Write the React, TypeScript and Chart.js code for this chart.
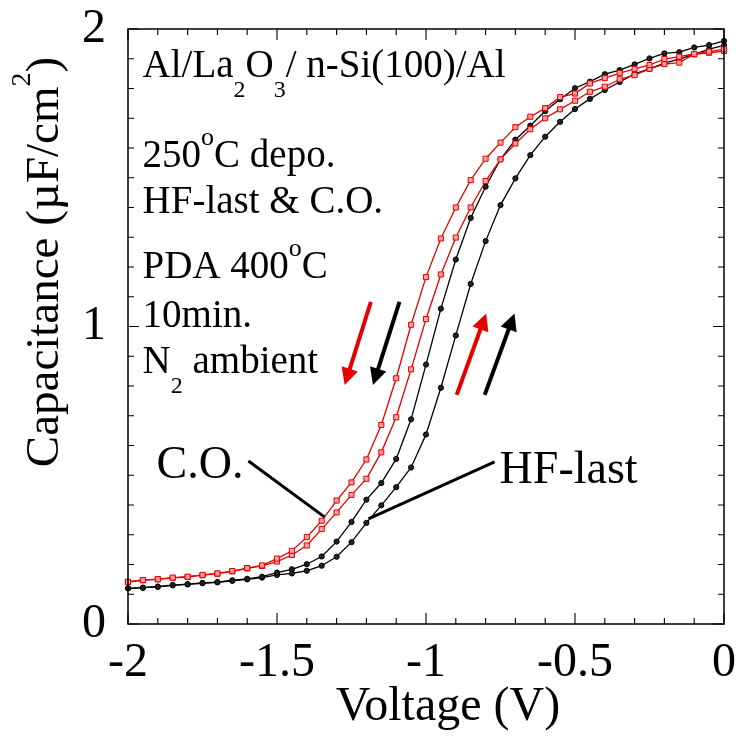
import React, { useEffect, useRef } from 'react';
import { Chart, registerables } from 'chart.js';

Chart.register(...registerables);

// ---- data ----
const voltage = [
  -2, -1.95, -1.9, -1.85, -1.8, -1.75, -1.7, -1.65, -1.6, -1.55,
  -1.5, -1.45, -1.4, -1.35, -1.3, -1.25, -1.2, -1.15, -1.1, -1.05,
  -1, -0.95, -0.9, -0.85, -0.8, -0.75, -0.7, -0.65, -0.6, -0.55,
  -0.5, -0.45, -0.4, -0.35, -0.3, -0.25, -0.2, -0.15, -0.1, -0.05, 0,
];

// C.O. (red) – left branch (sweep toward negative bias)
const coReverse = [
  0.142, 0.148, 0.151, 0.156, 0.159, 0.165, 0.170, 0.178, 0.188, 0.197,
  0.220, 0.246, 0.292, 0.347, 0.415, 0.476, 0.553, 0.669, 0.826, 1.006,
  1.166, 1.296, 1.400, 1.492, 1.564, 1.618, 1.670, 1.705, 1.734, 1.771,
  1.783, 1.817, 1.835, 1.852, 1.866, 1.879, 1.899, 1.907, 1.916, 1.924, 1.932,
];

// C.O. (red) – right branch
const coForward = [
  0.141, 0.147, 0.150, 0.155, 0.158, 0.164, 0.169, 0.177, 0.187, 0.195,
  0.210, 0.232, 0.264, 0.319, 0.375, 0.434, 0.488, 0.577, 0.695, 0.856,
  1.025, 1.175, 1.299, 1.400, 1.489, 1.562, 1.615, 1.663, 1.700, 1.730,
  1.759, 1.789, 1.806, 1.831, 1.845, 1.866, 1.882, 1.887, 1.915, 1.920, 1.926,
];

// HF-last (black) – left branch
const hfReverse = [
  0.120, 0.122, 0.126, 0.131, 0.134, 0.138, 0.141, 0.147, 0.152, 0.159,
  0.173, 0.184, 0.201, 0.227, 0.277, 0.343, 0.418, 0.474, 0.555, 0.688,
  0.872, 1.060, 1.225, 1.365, 1.470, 1.562, 1.628, 1.675, 1.724, 1.764,
  1.801, 1.823, 1.848, 1.862, 1.881, 1.901, 1.918, 1.922, 1.938, 1.946, 1.960,
];

// HF-last (black) – right branch
const hfForward = [
  0.120, 0.122, 0.125, 0.130, 0.133, 0.137, 0.140, 0.145, 0.150, 0.156,
  0.165, 0.170, 0.179, 0.196, 0.226, 0.275, 0.340, 0.399, 0.460, 0.526,
  0.637, 0.794, 0.970, 1.143, 1.287, 1.408, 1.498, 1.576, 1.638, 1.688,
  1.731, 1.765, 1.795, 1.822, 1.849, 1.866, 1.885, 1.899, 1.915, 1.932, 1.945,
];

const xMin = -2;
const xMax = 0;
const yMin = 0;
const yMax = 2;
const xMajorStep = 0.5;
const yMajorStep = 1;
const minorStep = 0.1;

const xTitle = 'Voltage (V)';
const yTitleMain = 'Capacitance (µF/cm';
const yTitleSup = '2';
const yTitleEnd = ')';

const RED = '#e60000';
const FONT = "'Liberation Serif', 'Times New Roman', serif";

type Part = { t: string; size: number; dy?: number };

function richWidth(ctx: CanvasRenderingContext2D, parts: Part[]) {
  let w = 0;
  for (const p of parts) {
    ctx.font = `${p.size}px ${FONT}`;
    w += ctx.measureText(p.t).width;
  }
  return w;
}

function drawRich(ctx: CanvasRenderingContext2D, x: number, y: number, parts: Part[]) {
  let cx = x;
  for (const p of parts) {
    ctx.font = `${p.size}px ${FONT}`;
    ctx.fillText(p.t, cx, y + (p.dy || 0));
    cx += ctx.measureText(p.t).width;
  }
}

function arrow(ctx: CanvasRenderingContext2D, x1: number, y1: number, x2: number, y2: number, color: string) {
  const ang = Math.atan2(y2 - y1, x2 - x1);
  const hl = 17;
  const hw = 8.5;
  const c = Math.cos(ang);
  const s = Math.sin(ang);
  const bx = x2 - hl * c;
  const by = y2 - hl * s;
  ctx.save();
  ctx.strokeStyle = color;
  ctx.fillStyle = color;
  ctx.lineWidth = 4;
  ctx.lineCap = 'butt';
  ctx.beginPath();
  ctx.moveTo(x1, y1);
  ctx.lineTo(bx + 2 * c, by + 2 * s);
  ctx.stroke();
  ctx.beginPath();
  ctx.moveTo(x2, y2);
  ctx.lineTo(bx + hw * s, by - hw * c);
  ctx.lineTo(bx - hw * s, by + hw * c);
  ctx.closePath();
  ctx.fill();
  ctx.restore();
}

const decorPlugin = {
  id: 'decor',
  afterDatasetsDraw(chart: any) {
    const ctx: CanvasRenderingContext2D = chart.ctx;
    const xs = chart.scales.x;
    const ys = chart.scales.y;
    const { left, right, top, bottom } = chart.chartArea;
    const px = (v: number) => xs.getPixelForValue(v);
    const py = (v: number) => ys.getPixelForValue(v);

    ctx.save();
    // frame
    ctx.strokeStyle = '#000';
    ctx.lineWidth = 1.5;
    ctx.strokeRect(left, top, right - left, bottom - top);

    // inward ticks on all four sides
    ctx.lineWidth = 1.1;
    const major = 11;
    const minor = 6;
    const nx = Math.round((xMax - xMin) / minorStep);
    for (let i = 0; i <= nx; i++) {
      const v = xMin + i * minorStep;
      const isMajor = Math.abs(v / xMajorStep - Math.round(v / xMajorStep)) < 1e-6;
      const len = isMajor ? major : minor;
      const x = px(v);
      ctx.beginPath();
      ctx.moveTo(x, bottom);
      ctx.lineTo(x, bottom - len);
      ctx.moveTo(x, top);
      ctx.lineTo(x, top + len);
      ctx.stroke();
    }
    const ny = Math.round((yMax - yMin) / minorStep);
    for (let i = 0; i <= ny; i++) {
      const v = yMin + i * minorStep;
      const isMajor = Math.abs(v / yMajorStep - Math.round(v / yMajorStep)) < 1e-6;
      const len = isMajor ? major : minor;
      const y = py(v);
      ctx.beginPath();
      ctx.moveTo(left, y);
      ctx.lineTo(left + len, y);
      ctx.moveTo(right, y);
      ctx.lineTo(right - len, y);
      ctx.stroke();
    }

    ctx.fillStyle = '#000';
    ctx.textBaseline = 'alphabetic';
    ctx.textAlign = 'left';

    // axis titles
    ctx.font = `48px ${FONT}`;
    ctx.textAlign = 'center';
    ctx.fillText(xTitle, left + 320, 720);
    ctx.textAlign = 'left';

    const yParts: Part[] = [
      { t: yTitleMain, size: 47 },
      { t: yTitleSup, size: 28, dy: -28 },
      { t: yTitleEnd, size: 47 },
    ];
    const yw = richWidth(ctx, yParts);
    ctx.save();
    ctx.translate(58, 262);
    ctx.rotate(-Math.PI / 2);
    drawRich(ctx, -yw / 2, 0, yParts);
    ctx.restore();

    // annotation block
    const tx = px(-1.951);
    const f = 39;
    drawRich(ctx, tx, py(1.839), [
      { t: 'Al/La', size: f },
      { t: '2', size: 24, dy: 20 },
      { t: 'O', size: f },
      { t: '3', size: 24, dy: 20 },
      { t: '/ n-Si(100)/Al', size: f },
    ]);
    drawRich(ctx, tx, py(1.536), [
      { t: '250', size: f },
      { t: 'o', size: 26, dy: -22 },
      { t: 'C depo.', size: f },
    ]);
    drawRich(ctx, tx, py(1.382), [{ t: 'HF-last & C.O.', size: f }]);
    drawRich(ctx, tx, py(1.163), [
      { t: 'PDA 400', size: f },
      { t: 'o', size: 26, dy: -22 },
      { t: 'C', size: f },
    ]);
    drawRich(ctx, tx, py(0.998), [{ t: '10min.', size: f }]);
    drawRich(ctx, tx, py(0.844), [
      { t: 'N', size: f },
      { t: '2', size: 24, dy: 20 },
      { t: ' ambient', size: f },
    ]);

    // curve labels with leader lines
    drawRich(ctx, px(-1.904), py(0.491), [{ t: 'C.O.', size: 46 }]);
    drawRich(ctx, px(-0.753), py(0.474), [{ t: 'HF-last', size: 46 }]);
    ctx.strokeStyle = '#000';
    ctx.lineWidth = 3;
    ctx.beginPath();
    ctx.moveTo(px(-1.596), py(0.548));
    ctx.lineTo(px(-1.341), py(0.36));
    ctx.moveTo(px(-0.77), py(0.545));
    ctx.lineTo(px(-1.193), py(0.353));
    ctx.stroke();

    // sweep direction arrows
    arrow(ctx, px(-1.185), py(1.083), px(-1.273), py(0.803), RED);
    arrow(ctx, px(-1.089), py(1.083), px(-1.178), py(0.803), '#000');
    arrow(ctx, px(-0.897), py(0.77), px(-0.798), py(1.044), RED);
    arrow(ctx, px(-0.803), py(0.77), px(-0.703), py(1.044), '#000');

    ctx.restore();
  },
};

function toPoints(ys: number[]) {
  return voltage.map((v, i) => ({ x: v, y: ys[i] }));
}

function fmt(v: number) {
  const r = Math.round(v * 10) / 10;
  return r === 0 ? '0' : String(r);
}

export default function App() {
  const ref = useRef<HTMLCanvasElement | null>(null);

  useEffect(() => {
    if (!ref.current) return;
    const redStyle = {
      borderColor: RED,
      borderWidth: 1.3,
      pointStyle: 'rect' as const,
      pointRadius: 3.6,
      pointBackgroundColor: '#ff9c9c',
      pointBorderColor: RED,
      pointBorderWidth: 1,
      clip: false as const,
      tension: 0,
    };
    const blackStyle = {
      borderColor: '#000',
      borderWidth: 1.3,
      pointStyle: 'circle' as const,
      pointRadius: 2.6,
      pointBackgroundColor: '#222',
      pointBorderColor: '#000',
      pointBorderWidth: 1,
      clip: false as const,
      tension: 0,
    };
    const chart = new Chart(ref.current, {
      type: 'line',
      data: {
        datasets: [
          { label: 'C.O. reverse', data: toPoints(coReverse), ...redStyle },
          { label: 'C.O. forward', data: toPoints(coForward), ...redStyle },
          { label: 'HF-last reverse', data: toPoints(hfReverse), ...blackStyle },
          { label: 'HF-last forward', data: toPoints(hfForward), ...blackStyle },
        ],
      },
      options: {
        responsive: false,
        animation: false,
        devicePixelRatio: 1,
        layout: { padding: { left: 0, right: 15, top: 29, bottom: 0 } },
        plugins: {
          legend: { display: false },
          tooltip: { enabled: false },
        },
        scales: {
          x: {
            type: 'linear',
            min: xMin,
            max: xMax,
            grid: { display: false, drawTicks: false },
            border: { display: false },
            ticks: {
              stepSize: xMajorStep,
              color: '#000',
              padding: 11,
              maxRotation: 0,
              autoSkip: false,
              font: { family: FONT, size: 48 },
              callback: (v: any) => fmt(Number(v)),
            },
            afterFit: (s: any) => {
              s.height = 114;
              s.paddingLeft = 0;
              s.paddingRight = 0;
            },
          },
          y: {
            type: 'linear',
            min: yMin,
            max: yMax,
            grid: { display: false, drawTicks: false },
            border: { display: false },
            ticks: {
              stepSize: yMajorStep,
              color: '#000',
              padding: 22,
              font: { family: FONT, size: 48 },
              callback: (v: any) => fmt(Number(v)),
            },
            afterFit: (s: any) => {
              s.width = 128;
              s.paddingTop = 0;
              s.paddingBottom = 0;
            },
          },
        },
      },
      plugins: [decorPlugin],
    });
    return () => chart.destroy();
  }, []);

  return (
    <div style={{ position: 'fixed', left: 0, top: 0, width: 739, height: 738, background: '#fff' }}>
      <canvas ref={ref} width={739} height={738} style={{ width: 739, height: 738, display: 'block' }} />
    </div>
  );
}
